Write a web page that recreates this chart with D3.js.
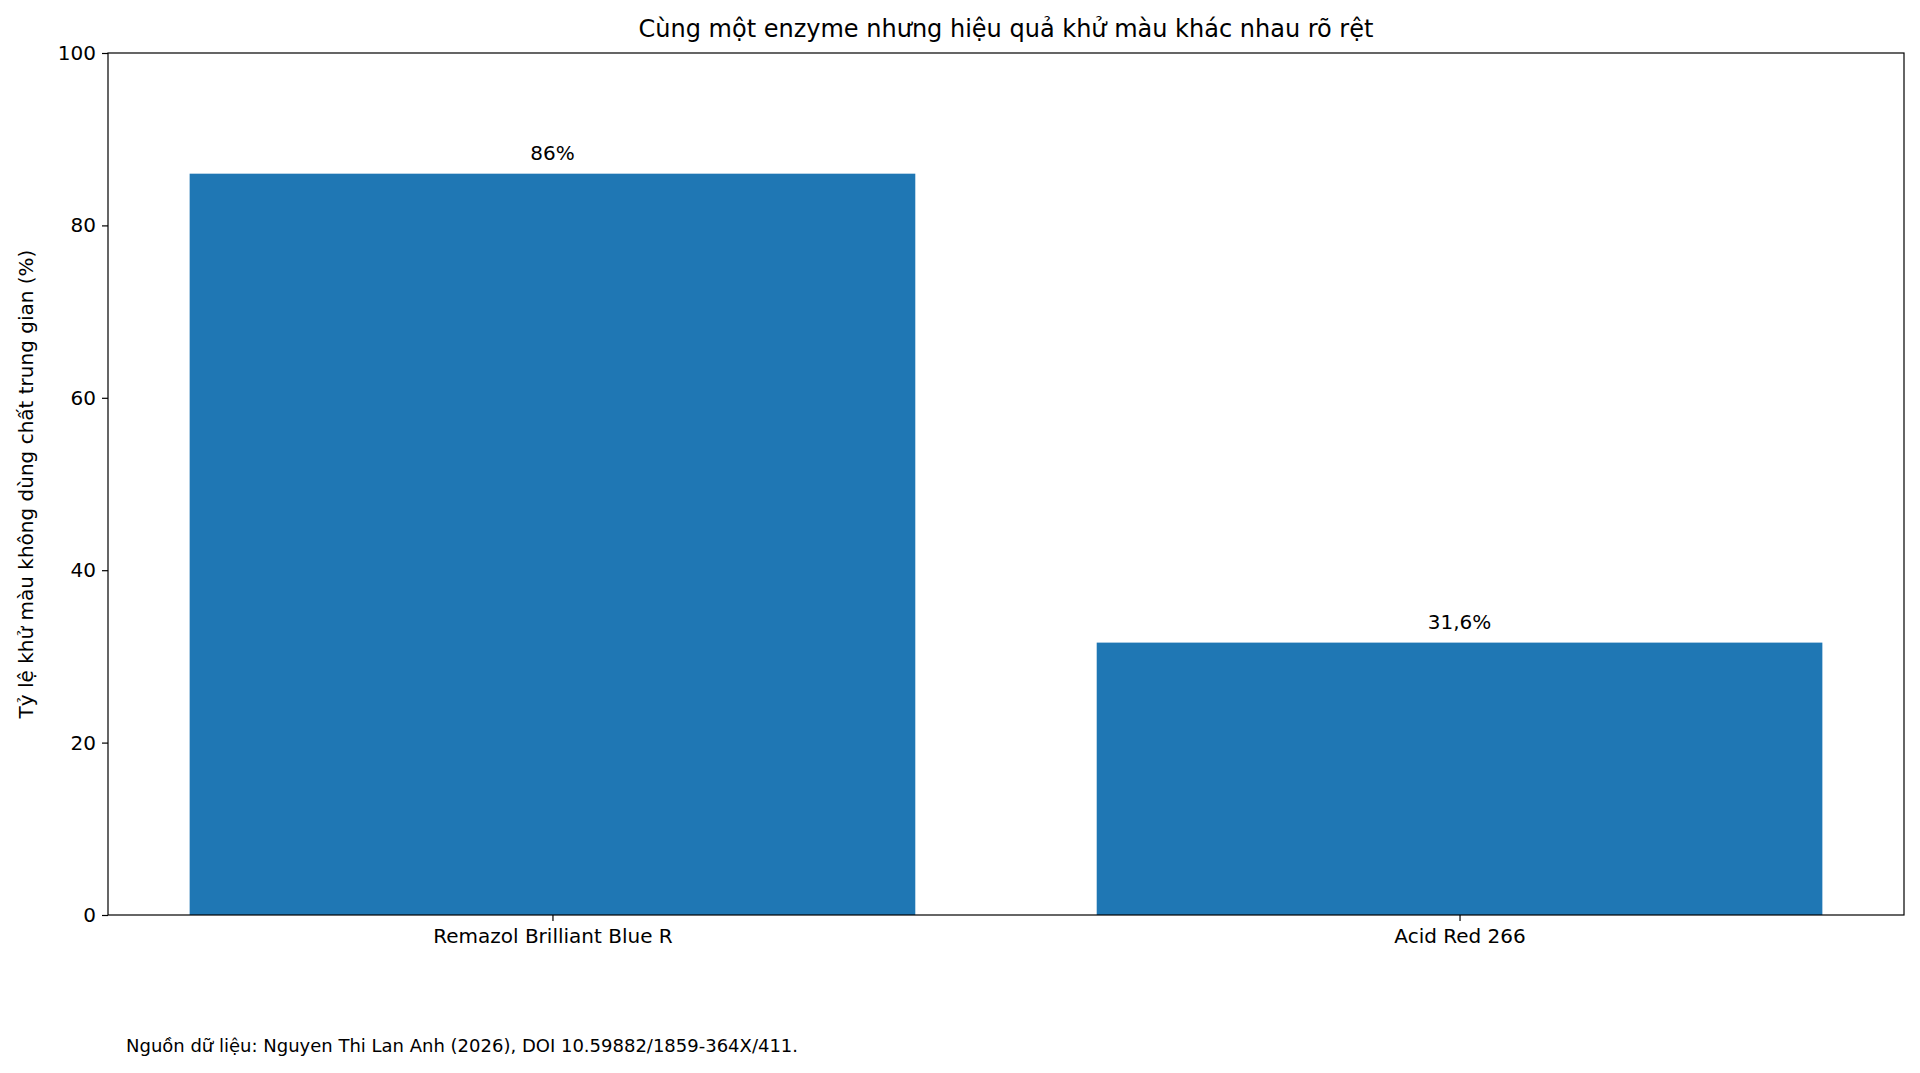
<!DOCTYPE html>
<html><head><meta charset="utf-8">
<script src="https://cdn.jsdelivr.net/npm/d3@7/dist/d3.min.js"></script>
<style>body{margin:0;background:#fff}text{font-family:"DejaVu Sans",sans-serif;fill:#000}</style>
</head><body><svg id="c" width="1920" height="1073"></svg>
<script>
const categories=["Remazol Brilliant Blue R","Acid Red 266"];
const values=[86,31.6];
const valueLabels=["86%","31,6%"];
const yTicks=[0,20,40,60,80,100];
const title="Cùng một enzyme nhưng hiệu quả khử màu khác nhau rõ rệt";
const yLabel="Tỷ lệ khử màu không dùng chất trung gian (%)";
const source="Nguồn dữ liệu: Nguyen Thi Lan Anh (2026), DOI 10.59882/1859-364X/411.";

const svg=d3.select("#c");
const L=108,R=1904,T=53,B=915;
const x=d3.scaleLinear().domain([-0.49,1.49]).range([L,R]);
const y=d3.scaleLinear().domain([0,100]).range([B,T]);
const bw=x(0.4)-x(0);
svg.selectAll("rect.bar").data(values).join("rect").attr("class","bar")
 .attr("x",(d,i)=>x(i)-bw).attr("width",2*bw).attr("y",d=>y(d)).attr("height",d=>B-y(d)).attr("fill","#1f77b4");
svg.selectAll("text.vl").data(values).join("text").attr("class","vl")
 .attr("x",(d,i)=>x(i)).attr("y",d=>y(d)-14).attr("text-anchor","middle").attr("font-size",20).text((d,i)=>valueLabels[i]);
const ya=d3.axisLeft(y).tickValues(yTicks).tickSize(6).tickPadding(6);
const yg=svg.append("g").attr("transform",`translate(${L},0)`).call(ya);
const xa=d3.axisBottom(x).tickValues([0,1]).tickFormat(i=>categories[i]).tickSize(6).tickPadding(8);
const xg=svg.append("g").attr("transform",`translate(0,${B})`).call(xa);
[yg,xg].forEach(g=>{g.select(".domain").remove();g.selectAll("text").attr("font-size",20).style("font-family","DejaVu Sans");g.selectAll("line").attr("stroke","#000").attr("stroke-width",1.2);});
svg.append("rect").attr("x",L).attr("y",T).attr("width",R-L).attr("height",B-T).attr("fill","none").attr("stroke","#000").attr("stroke-width",1.2);
svg.append("text").attr("x",(L+R)/2).attr("y",37).attr("text-anchor","middle").attr("font-size",24).text(title);
svg.append("text").attr("transform",`translate(33,${(T+B)/2}) rotate(-90)`).attr("text-anchor","middle").attr("font-size",20).text(yLabel);
svg.append("text").attr("x",126).attr("y",1052).attr("font-size",18).text(source);
</script></body></html>
